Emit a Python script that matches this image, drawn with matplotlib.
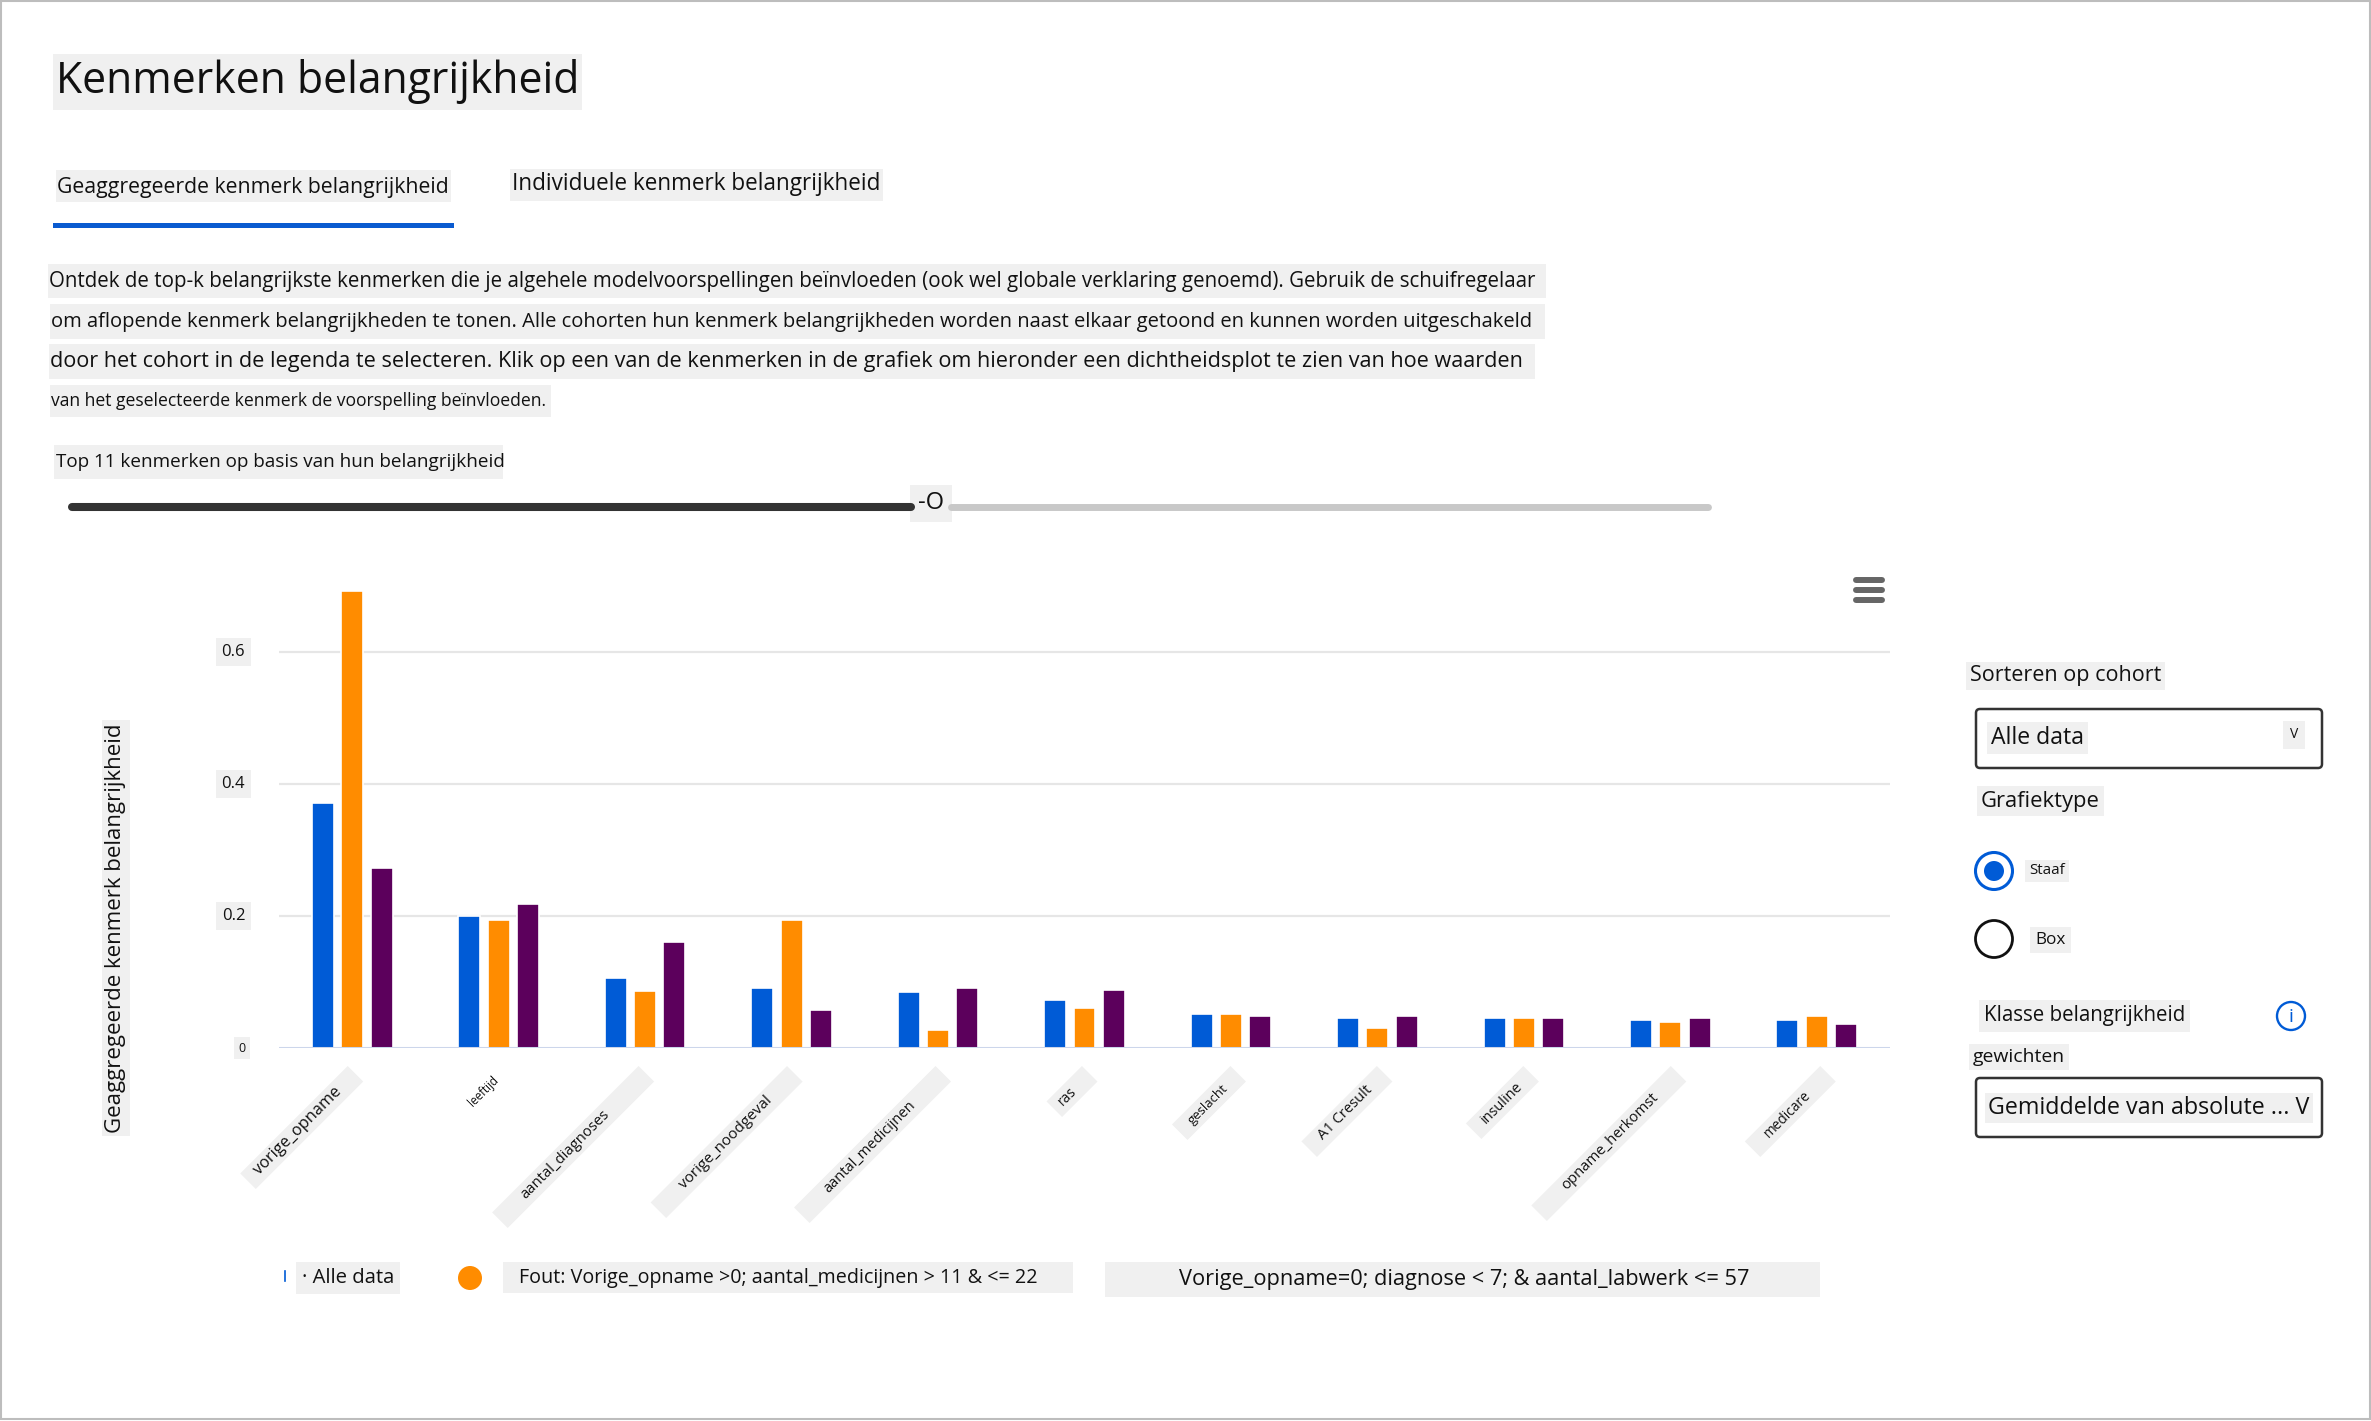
import numpy as np
import matplotlib
matplotlib.use("Agg")
import matplotlib.pyplot as plt
from matplotlib.patches import Rectangle, Circle, Polygon, FancyBboxPatch

# ---------------- data ----------------
features = ["vorige_opname", "leeftijd", "aantal_diagnoses", "vorige_noodgeval",
            "aantal_medicijnen", "ras", "geslacht", "A1 Cresult", "insuline",
            "opname_herkomst", "medicare"]
alle_data = [0.371, 0.200, 0.106, 0.091, 0.085, 0.073, 0.052, 0.046, 0.046, 0.043, 0.043]
fout_cohort = [0.692, 0.194, 0.086, 0.194, 0.028, 0.061, 0.052, 0.031, 0.046, 0.040, 0.049]
opname0_cohort = [0.272, 0.218, 0.160, 0.058, 0.091, 0.088, 0.049, 0.049, 0.046, 0.046, 0.037]
cohort_names = ["Alle data",
                "Fout: Vorige_opname >0; aantal_medicijnen > 11 & <= 22",
                "Vorige_opname=0; diagnose < 7; & aantal_labwerk <= 57"]
y_ticks = [0, 0.2, 0.4, 0.6]
y_tick_labels = ["0", "0.2", "0.4", "0.6"]

# ---------------- style ----------------
FONT = ["Open Sans", "DejaVu Sans"]
plt.rcParams["font.family"] = FONT
BLUE = "#005bd6"
ORANGE = "#ff8c00"
PURPLE = "#5c005c"
BG = "#f0f0f0"
TXT = "#111111"

W, H = 2371, 1421
fig = plt.figure(figsize=(W / 100, H / 100), dpi=100)
fig.patch.set_facecolor("white")
R = fig.canvas.get_renderer()

ov = fig.add_axes([0, 0, 1, 1], zorder=0)
ov.set_xlim(0, W)
ov.set_ylim(H, 0)
ov.axis("off")

# chart axes (pixel layout)
AX_L, AX_R, AX_B, AX_T = 279, 1890, 1048, 573
PX_PER_UNIT = 660.0
ax = fig.add_axes([AX_L / W, (H - AX_B) / H, (AX_R - AX_L) / W, (AX_B - AX_T) / H], zorder=1)
ax.patch.set_alpha(0)


def txt(x, y, s, width=None, size=12, ha="left", va="center", bg=True, pad=0.2,
        color=TXT, rot=0, axis=None, **kw):
    a = axis if axis is not None else ov
    t = a.text(x, y, s, fontsize=size, ha=ha, va=va, color=color, **kw)
    if width:
        bb = t.get_window_extent(R)
        t.set_fontsize(size * width / bb.width)
    if rot:
        t.set_rotation(rot)
    if bg:
        t.set_bbox(dict(boxstyle=f"square,pad={pad}", fc=BG, ec="none"))
    return t


# ---------------- bars ----------------
x = np.arange(len(features))
bw = 0.15
off = 0.2
ax.bar(x - off, alle_data, bw, color=BLUE, edgecolor="white", linewidth=1.2, zorder=2, label=cohort_names[0])
ax.bar(x, fout_cohort, bw, color=ORANGE, edgecolor="white", linewidth=1.2, zorder=2, label=cohort_names[1])
ax.bar(x + off, opname0_cohort, bw, color=PURPLE, edgecolor="white", linewidth=1.2, zorder=2, label=cohort_names[2])
ax.set_xlim(-0.5, len(features) - 0.5)
ax.set_ylim(0, (AX_B - AX_T) / PX_PER_UNIT)
for v in y_ticks[1:]:
    ax.axhline(v, color="#e6e6e6", lw=1.6, zorder=0)
ax.axhline(0, color="#ccd6eb", lw=2.2, zorder=3)
ax.set_xticks([])
ax.set_yticks([])
for s in ax.spines.values():
    s.set_visible(False)

# y tick labels
for v, lab in zip(y_ticks, y_tick_labels):
    t = ax.text(-0.021, v, lab, transform=ax.get_yaxis_transform(), ha="right", va="center",
                fontsize=12 if lab != "0" else 9, color=TXT,
                bbox=dict(boxstyle="square,pad=0.35", fc=BG, ec="none"))

# y axis title
txt(116, 928, "Geaggregeerde kenmerk belangrijkheid", width=411, size=14, ha="center", rot=90, pad=0.15)

# x labels (rotated, with grey boxes)
lab_dx = [-54, -15, -80, -66, -68, -17, -23, -32, -22, -60, -29]
lab_dy = [83, 43, 107, 95, 99, 48, 56, 65, 55, 94, 66]
lab_vext = [88, 28, 90, 93, 93, 15, 38, 53, 40, 98, 45]
box_vext = [123, 0, 162, 152, 157, 51, 74, 91, 73, 155, 91]
BOX_TOP = 1066
BOX_W = 22
r2 = np.sqrt(2)
u = np.array([1 / r2, -1 / r2])
n = np.array([1 / r2, 1 / r2])
for i, name in enumerate(features):
    dx_, dy_ = ax.transData.transform((i, 0))
    cx = dx_ + lab_dx[i]
    cy = (H - dy_) + lab_dy[i]
    if box_vext[i] > 0:
        hb = box_vext[i]
        lb = hb * r2 - BOX_W
        bcy = BOX_TOP + hb / 2
        bcx = cx + (cy - bcy)
        c = np.array([bcx, bcy])
        pts = [c + lb / 2 * u + BOX_W / 2 * n, c + lb / 2 * u - BOX_W / 2 * n,
               c - lb / 2 * u - BOX_W / 2 * n, c - lb / 2 * u + BOX_W / 2 * n]
        ov.add_patch(Polygon(pts, closed=True, fc=BG, ec="none", zorder=1))
    L = lab_vext[i] * 1.33
    t = ov.text(cx, cy, name, fontsize=10, ha="center", va="center", color=TXT,
                rotation_mode="anchor", zorder=2)
    bb = t.get_window_extent(R)
    t.set_fontsize(10 * L / bb.width)
    t.set_rotation(45)

# hamburger icon
for yy in [580, 590, 600]:
    ov.plot([1856, 1882], [yy, yy], color="#666666", lw=4.3, solid_capstyle="round")

# ---------------- legend ----------------
txt(302, 1278, "· " + cohort_names[0], width=93, size=14, pad=0.3)
ov.plot([285, 285], [1271, 1281], color=BLUE, lw=1.2)
ov.add_patch(Circle((470, 1278), 12, fc=ORANGE, ec="none"))
ov.add_patch(Rectangle((503, 1262), 570, 31, fc=BG, ec="none"))
txt(519, 1278, cohort_names[1], width=523, size=14, bg=False)
ov.add_patch(Rectangle((1105, 1262), 715, 35, fc=BG, ec="none"))
txt(1179, 1279, cohort_names[2], width=570, size=15, bg=False)

# ---------------- header ----------------
ov.add_patch(Rectangle((53, 54), 529, 56, fc=BG, ec="none"))
txt(56, 82, "Kenmerken belangrijkheid", width=525, size=29, bg=False)
ov.add_patch(Rectangle((56, 170), 395, 32, fc=BG, ec="none"))
txt(57, 187, "Geaggregeerde kenmerk belangrijkheid", width=392, size=14, bg=False)
ov.add_patch(Rectangle((53, 223), 401, 4.5, fc="#0a5bd0", ec="none"))
ov.add_patch(Rectangle((510, 169), 373, 32, fc=BG, ec="none"))
txt(512, 184, "Individuele kenmerk belangrijkheid", width=368, size=15, bg=False)

para = [
    ("Ontdek de top-k belangrijkste kenmerken die je algehele modelvoorspellingen beïnvloeden (ook wel globale verklaring genoemd). Gebruik de schuifregelaar",
     48, 264, 1546, 298, 49, 1543),
    ("om aflopende kenmerk belangrijkheden te tonen. Alle cohorten hun kenmerk belangrijkheden worden naast elkaar getoond en kunnen worden uitgeschakeld",
     50, 304, 1545, 339, 51, 1542),
    ("door het cohort in de legenda te selecteren. Klik op een van de kenmerken in de grafiek om hieronder een dichtheidsplot te zien van hoe waarden",
     49, 344, 1535, 379, 50, 1533),
    ("van het geselecteerde kenmerk de voorspelling beïnvloeden.",
     50, 385, 551, 417, 51, 549),
]
for s, bx0, by0, bx1, by1, tx0, tx1 in para:
    ov.add_patch(Rectangle((bx0, by0), bx1 - bx0, by1 - by0, fc=BG, ec="none"))
    txt(tx0, (by0 + by1) / 2, s, width=tx1 - tx0, size=14, bg=False)

ov.add_patch(Rectangle((54, 445), 449, 34, fc=BG, ec="none"))
txt(56, 462, "Top 11 kenmerken op basis van hun belangrijkheid", width=445, size=13, bg=False)

# slider
ov.plot([72, 911], [507, 507], color="#333333", lw=5.8, solid_capstyle="round")
ov.plot([951, 1708], [507, 507], color="#c8c8c8", lw=5.0, solid_capstyle="round")
ov.add_patch(Rectangle((910, 485), 42, 37, fc=BG, ec="none"))
txt(931, 503, "-O", size=17, ha="center", bg=False)

# ---------------- right panel ----------------
txt(1970, 676, "Sorteren op cohort", width=191, size=15, pad=0.18)
ov.add_patch(FancyBboxPatch((1976, 709), 346, 59, boxstyle="round,pad=0,rounding_size=4",
                            fc="white", ec="#333333", lw=1.8))
txt(1991, 738, "Alle data", width=93, size=15, pad=0.18)
txt(2294, 735, "V", size=10, ha="center", pad=0.5)
txt(1981, 801, "Grafiektype", width=119, size=15, pad=0.2)
ov.add_patch(Circle((1994, 871), 18.5, fill=False, ec=BLUE, lw=2.2))
ov.add_patch(Circle((1994, 871), 10, fc=BLUE, ec="none"))
txt(2029, 871, "Staaf", width=36, size=9, pad=0.25)
ov.add_patch(Circle((1994, 939), 18.5, fill=False, ec="#111111", lw=2.0))
txt(2035, 940, "Box", width=30, size=12, pad=0.3)
txt(1984, 1016, "Klasse belangrijkheid", width=202, size=15, pad=0.25)
ov.add_patch(Circle((2291, 1016), 14, fill=False, ec=BLUE, lw=1.7))
ov.text(2291, 1017, "i", fontsize=14, ha="center", va="center", color=BLUE)
txt(1973, 1057, "gewichten", width=92, size=13, pad=0.2)
ov.add_patch(FancyBboxPatch((1976, 1078), 346, 59, boxstyle="round,pad=0,rounding_size=4",
                            fc="white", ec="#333333", lw=1.8))
txt(1988, 1108, "Gemiddelde van absolute ... V", width=321, size=16, pad=0.15)

# outer frame
ov.add_patch(Rectangle((1, 1), W - 2.5, H - 3, fill=False, ec="#bdbdbd", lw=1.5))

fig.savefig("out.png", dpi=100, facecolor="white")
